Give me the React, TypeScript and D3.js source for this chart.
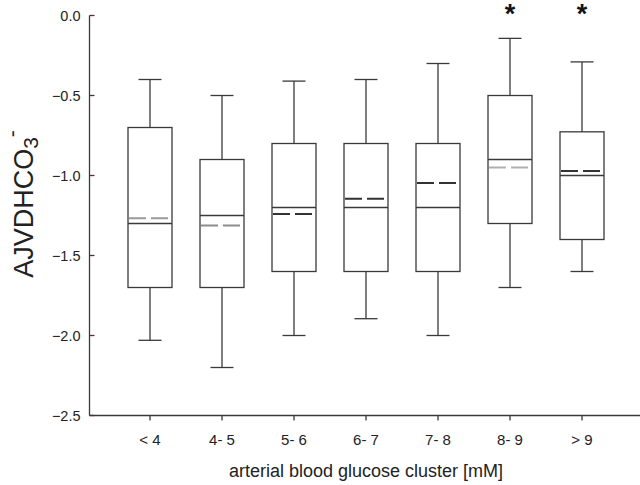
import React from "react";
import * as d3 from "d3";

const categories = ["< 4", "4- 5", "5- 6", "6- 7", "7- 8", "8- 9", "> 9"];
const whiskerHigh = [-0.4, -0.5, -0.41, -0.4, -0.3, -0.143, -0.29];
const q3 = [-0.7, -0.9, -0.8, -0.8, -0.8, -0.5, -0.727];
const medians = [-1.3, -1.25, -1.2, -1.2, -1.2, -0.9, -1.0];
const means = [-1.267, -1.312, -1.24, -1.145, -1.047, -0.95, -0.972];
const q1 = [-1.7, -1.7, -1.6, -1.6, -1.6, -1.3, -1.4];
const whiskerLow = [-2.03, -2.2, -2.0, -1.895, -2.0, -1.7, -1.6];
const significant = [false, false, false, false, false, true, true];
const yTicks = [0, -0.5, -1.0, -1.5, -2.0, -2.5];

// style: shade of mean line per box
const meanShade = ["#9a9a9a", "#8c8c8c", "#333", "#333", "#333", "#b0b0b0", "#333"];

export default function App() {
  const W = 640, H = 485;
  const x = d3.scaleLinear().domain([0, 6]).range([150, 582]);
  const y = d3.scaleLinear().domain([-2.5, 0]).range([415.5, 15.5]);
  const axisLeft = 89.5;
  const boxW = 44;
  const capW = 23;
  const stroke = "#3a3a3a";
  const font = "Liberation Sans, Arial, Helvetica, sans-serif";

  return (
    <svg width={W} height={H} style={{ position: "absolute", left: 0, top: 0, background: "#fff" }}>
      {/* y axis */}
      <line x1={axisLeft} x2={axisLeft} y1={y(0)} y2={y(-2.5)} stroke={stroke} strokeWidth={1.3} />
      {yTicks.map((t) => (
        <g key={t}>
          <line x1={axisLeft} x2={axisLeft + 5} y1={y(t)} y2={y(t)} stroke={stroke} strokeWidth={1.3} />
          <text x={80.5} y={y(t)} dy="0.36em" textAnchor="end" fontFamily={font} fontSize={14.5} fill="#222">
            {d3.format(".1f")(t)}
          </text>
        </g>
      ))}
      {/* x axis */}
      <line x1={axisLeft} x2={W} y1={y(-2.5)} y2={y(-2.5)} stroke={stroke} strokeWidth={1.3} />
      {categories.map((c, i) => (
        <g key={c}>
          <line x1={x(i)} x2={x(i)} y1={y(-2.5)} y2={y(-2.5) + 5} stroke={stroke} strokeWidth={1.3} />
          <text x={x(i)} y={445} textAnchor="middle" fontFamily={font} fontSize={15} fill="#222">
            {c}
          </text>
        </g>
      ))}
      <text x={366} y={477} textAnchor="middle" fontFamily={font} fontSize={18} fill="#222">
        arterial blood glucose cluster [mM]
      </text>
      <text
        transform={`translate(33, 204) rotate(-90)`}
        textAnchor="middle"
        fontFamily={font}
        fontSize={27}
        fill="#222"
      >
        AJVDHCO
        <tspan fontSize={21} dy={5}>3</tspan>
        <tspan fontSize={21} dy={-19}>-</tspan>
      </text>
      {/* boxes */}
      {categories.map((c, i) => {
        const cx = x(i);
        const l = cx - boxW / 2;
        const r = cx + boxW / 2;
        return (
          <g key={"b" + c} fill="none" stroke={stroke} strokeWidth={1.3}>
            <line x1={cx} x2={cx} y1={y(whiskerHigh[i])} y2={y(q3[i])} />
            <line x1={cx} x2={cx} y1={y(q1[i])} y2={y(whiskerLow[i])} />
            <line x1={cx - capW / 2} x2={cx + capW / 2} y1={y(whiskerHigh[i])} y2={y(whiskerHigh[i])} />
            <line x1={cx - capW / 2} x2={cx + capW / 2} y1={y(whiskerLow[i])} y2={y(whiskerLow[i])} />
            <rect x={l} y={y(q3[i])} width={boxW} height={y(q1[i]) - y(q3[i])} />
            <line x1={l} x2={r} y1={y(medians[i])} y2={y(medians[i])} />
            <line
              x1={l + 1}
              x2={r - 4}
              y1={y(means[i])}
              y2={y(means[i])}
              stroke={meanShade[i]}
              strokeWidth={2}
              strokeDasharray="17,5"
            />
            {significant[i] && (
              <text
                x={cx}
                y={23}
                textAnchor="middle"
                fontFamily={font}
                fontWeight="bold"
                fontSize={27}
                fill="#111"
                stroke="none"
              >
                *
              </text>
            )}
          </g>
        );
      })}
    </svg>
  );
}
